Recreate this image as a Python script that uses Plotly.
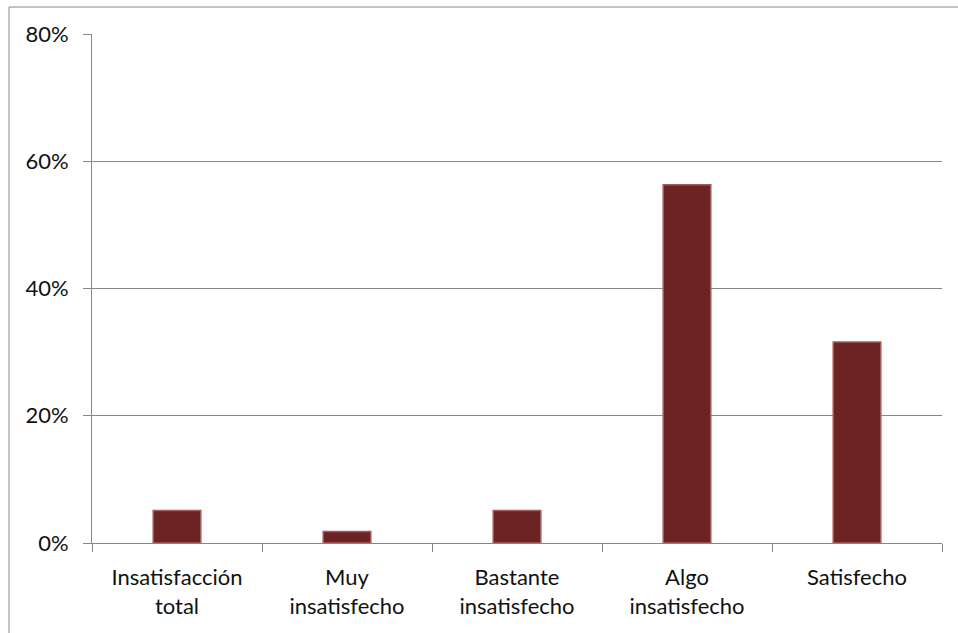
import plotly.graph_objects as go

categorias = ["Insatisfacción<br>total", "Muy<br>insatisfecho", "Bastante<br>insatisfecho",
              "Algo<br>insatisfecho", "Satisfecho"]
porcentajes = [5.1, 1.8, 5.1, 56.3, 31.6]
y_ticks = [0, 20, 40, 60, 80]
y_tick_labels = ["0%", "20%", "40%", "60%", "80%"]

GRIS = "#878787"
FUENTE = dict(family="Lato, Open Sans, sans-serif", size=22, color="#111111")

fig = go.Figure()
fig.add_trace(go.Bar(
    x=categorias,
    y=porcentajes,
    marker=dict(color="#6c2324", line=dict(color="#a85a5a", width=1.5)),
    width=0.28,
    hoverinfo="x+y",
))

# marco exterior del gráfico (borde superior e izquierdo)
fig.add_shape(type="line", xref="paper", yref="paper", x0=-0.0976, x1=1.1,
              y0=1.053, y1=1.053, line=dict(color=GRIS, width=1))
fig.add_shape(type="line", xref="paper", yref="paper", x0=-0.0976, x1=-0.0976,
              y0=1.053, y1=-0.2, line=dict(color=GRIS, width=1))

fig.update_layout(
    width=958, height=633,
    margin=dict(l=92, r=16, t=34, b=89.5),
    paper_bgcolor="white", plot_bgcolor="white",
    font=FUENTE,
    showlegend=False,
    bargap=0.72,
    xaxis=dict(
        type="category",
        showgrid=False,
        showline=True, linecolor=GRIS, linewidth=1,
        ticks="outside", tickson="boundaries", ticklen=8, tickcolor=GRIS,
        ticklabelstandoff=15,
        tickfont=FUENTE,
    ),
    yaxis=dict(
        range=[0, 80],
        tickvals=y_ticks, ticktext=y_tick_labels,
        showgrid=True, gridcolor=GRIS, gridwidth=1,
        showline=True, linecolor=GRIS, linewidth=1,
        zeroline=False,
        ticks="outside", ticklen=8, tickcolor=GRIS,
        ticklabelstandoff=10,
        tickfont=FUENTE,
    ),
)

fig.write_html("out.html")
